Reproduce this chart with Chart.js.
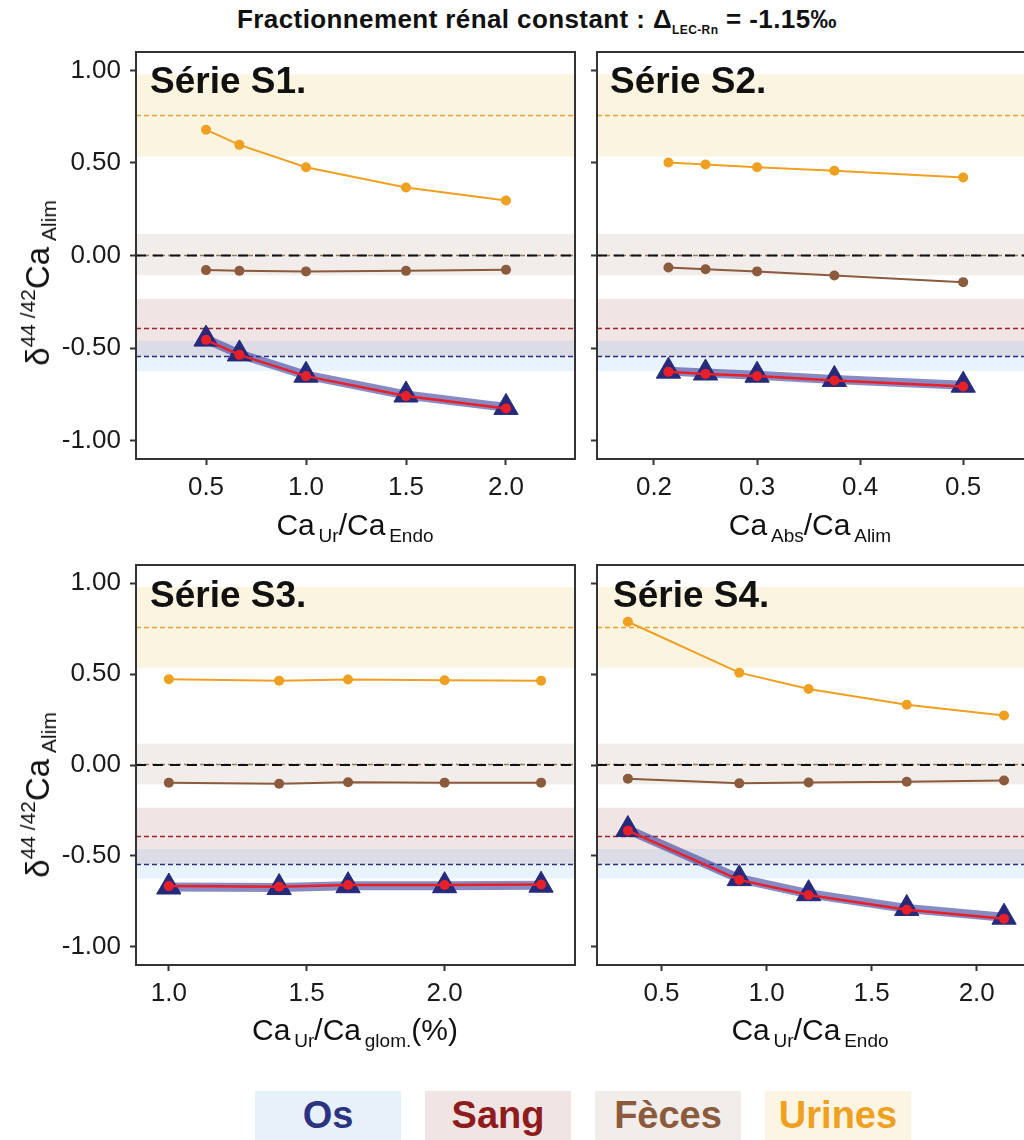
<!DOCTYPE html>
<html>
<head>
<meta charset="utf-8">
<script src="https://cdn.jsdelivr.net/npm/chart.js@4.4.0/dist/chart.umd.min.js"></script>
<style>
body { margin:0; width:1024px; height:1140px; background:#fff; position:relative; overflow:hidden;
  font-family:'Liberation Sans', Arial, sans-serif; color:#111; }
canvas { position:absolute; }
.lab { position:absolute; white-space:nowrap; line-height:1; }
#title { left:537px; top:6px; transform:translateX(-50%); font-weight:bold; font-size:26px; letter-spacing:0.4px; }
#title sub { font-size:12px; vertical-align:-6px; }
.serie { font-weight:bold; font-size:37px; }
.xtitle { font-size:30px; transform:translateX(-50%); }
.xtitle sub { font-size:19px; vertical-align:-7px; }
.ytitle { font-size:33px; transform:translate(-50%,-50%) rotate(-90deg); }
.ytitle sup { font-size:21px; vertical-align:14px; }
.ytitle sub { font-size:21px; vertical-align:-7px; }
.leg { position:absolute; top:1091px; width:146px; height:49px; font-weight:bold; font-size:38px;
  text-align:center; line-height:49px; }
</style>
</head>
<body>
<div id="title" class="lab">Fractionnement rénal constant : Δ<sub>LEC-Rn</sub> = -1.15‰</div>

<canvas id="chartS1" width="590" height="470" style="left:0;top:40px"></canvas>
<canvas id="chartS2" width="444" height="470" style="left:580px;top:40px"></canvas>
<canvas id="chartS3" width="590" height="470" style="left:0;top:550px"></canvas>
<canvas id="chartS4" width="444" height="470" style="left:580px;top:550px"></canvas>

<div class="lab serie" style="left:150px;top:62px">Série S1.</div>
<div class="lab serie" style="left:610px;top:62px">Série S2.</div>
<div class="lab serie" style="left:150px;top:576px">Série S3.</div>
<div class="lab serie" style="left:613px;top:576px">Série S4.</div>

<div class="lab ytitle" style="left:38px;top:283px">δ<sup>44&nbsp;/42</sup>Ca<sub>&nbsp;Alim</sub></div>
<div class="lab ytitle" style="left:38px;top:795px">δ<sup>44&nbsp;/42</sup>Ca<sub>&nbsp;Alim</sub></div>

<div class="lab xtitle" style="left:355px;top:510px">Ca<sub>&thinsp;Ur</sub>/Ca<sub>&thinsp;Endo</sub></div>
<div class="lab xtitle" style="left:810px;top:510px">Ca<sub>&thinsp;Abs</sub>/Ca<sub>&thinsp;Alim</sub></div>
<div class="lab xtitle" style="left:355px;top:1015px">Ca<sub>&thinsp;Ur</sub>/Ca<sub>&thinsp;glom.</sub>(%)</div>
<div class="lab xtitle" style="left:810px;top:1015px">Ca<sub>&thinsp;Ur</sub>/Ca<sub>&thinsp;Endo</sub></div>

<div class="leg" style="left:255px;background:#e8f1fa;color:#2c3383">Os</div>
<div class="leg" style="left:425px;background:#f1e4e4;color:#8e1c1c">Sang</div>
<div class="leg" style="left:595px;background:#f1edea;color:#8c5a3c">Fèces</div>
<div class="leg" style="left:765px;background:#fcf5e3;color:#f0a020">Urines</div>

<script>
'use strict';

// tick labels
let yTicks = [-1, -0.5, 0, 0.5, 1];
let xTicksS1 = [0.5, 1.0, 1.5, 2.0];
let xTicksS2 = [0.2, 0.3, 0.4, 0.5];
let xTicksS3 = [1.0, 1.5, 2.0];
let xTicksS4 = [0.5, 1.0, 1.5, 2.0];

// reference ranges (mean +/- half width), order Os, Sang, Feces, Urines
let bandNames = ['Os', 'Sang', 'Fèces', 'Urines'];
let bandMeans = [-0.543, -0.39, 0.005, 0.757];
let bandHalfWidths = [0.081, 0.155, 0.112, 0.222];

// Serie S1
let s1X = [0.5, 0.667, 1.0, 1.5, 2.0];
let s1Urines = [0.68, 0.598, 0.477, 0.368, 0.297];
let s1Feces = [-0.079, -0.083, -0.086, -0.083, -0.077];
let s1Sang = [-0.456, -0.537, -0.652, -0.760, -0.827];
let s1Os = [-0.452, -0.532, -0.647, -0.754, -0.821];

// Serie S2
let s2X = [0.214, 0.25, 0.3, 0.375, 0.5];
let s2Urines = [0.503, 0.492, 0.477, 0.458, 0.422];
let s2Feces = [-0.065, -0.074, -0.086, -0.108, -0.144];
let s2Sang = [-0.629, -0.640, -0.652, -0.676, -0.708];
let s2Os = [-0.625, -0.635, -0.647, -0.670, -0.701];

// Serie S3
let s3X = [1.0, 1.4, 1.65, 2.0, 2.35];
let s3Urines = [0.472, 0.464, 0.470, 0.466, 0.464];
let s3Feces = [-0.097, -0.103, -0.095, -0.097, -0.097];
let s3Sang = [-0.666, -0.670, -0.660, -0.660, -0.657];
let s3Os = [-0.671, -0.674, -0.664, -0.664, -0.661];

// Serie S4
let s4X = [0.34, 0.87, 1.2, 1.667, 2.13];
let s4Urines = [0.788, 0.508, 0.418, 0.331, 0.272];
let s4Feces = [-0.075, -0.101, -0.096, -0.092, -0.085];
let s4Sang = [-0.361, -0.632, -0.715, -0.796, -0.845];
let s4Os = [-0.355, -0.625, -0.708, -0.789, -0.837];

let bandFill = ['rgba(100,175,245,0.15)', '#f1e4e4', '#f1edea', '#fbf4e1'];
let bandLine = ['#2a2f7f', '#a32626', '#a0785c', '#f0a030'];

let bandsPlugin = {
  id: 'bands',
  beforeDatasetsDraw(chart) {
    let ctx = chart.ctx;
    let area = chart.chartArea;
    let y = chart.scales.y;
    ctx.save();
    ctx.beginPath();
    ctx.rect(area.left, area.top, area.right - area.left, area.bottom - area.top);
    ctx.clip();
    // urines first, os last (os is see-through over sang)
    for (let i = bandNames.length - 1; i >= 0; i--) {
      let top = y.getPixelForValue(bandMeans[i] + bandHalfWidths[i]);
      let bot = y.getPixelForValue(bandMeans[i] - bandHalfWidths[i]);
      ctx.fillStyle = bandFill[i];
      ctx.fillRect(area.left, top, area.right - area.left, bot - top);
    }
    ctx.lineWidth = 1.3;
    ctx.setLineDash([5, 3]);
    for (let i = 0; i < bandNames.length; i++) {
      let ym = Math.round(y.getPixelForValue(bandMeans[i])) + 0.5;
      ctx.strokeStyle = bandLine[i];
      ctx.beginPath();
      ctx.moveTo(area.left, ym);
      ctx.lineTo(area.right, ym);
      ctx.stroke();
    }
    // zero line
    let y0 = y.getPixelForValue(0);
    ctx.lineWidth = 2.2;
    ctx.strokeStyle = '#111';
    ctx.setLineDash([10, 7]);
    ctx.beginPath();
    ctx.moveTo(area.left, y0);
    ctx.lineTo(area.right, y0);
    ctx.stroke();
    ctx.restore();
  },
  afterDraw(chart) {
    let ctx = chart.ctx;
    let a = chart.chartArea;
    let opts = chart.options.plugins.bands || {};
    ctx.save();
    ctx.strokeStyle = '#333';
    ctx.lineWidth = 2;
    ctx.beginPath();
    if (opts.rightEdge) {
      ctx.rect(a.left, a.top, a.right - a.left, a.bottom - a.top);
    } else {
      ctx.moveTo(a.right + 2, a.top);
      ctx.lineTo(a.left, a.top);
      ctx.lineTo(a.left, a.bottom);
      ctx.lineTo(a.right + 2, a.bottom);
    }
    ctx.stroke();
    ctx.restore();
  }
};

function toPoints(xs, ys) {
  let pts = [];
  for (let i = 0; i < xs.length; i++) {
    pts.push({x: xs[i], y: ys[i]});
  }
  return pts;
}

function makePanel(id, xs, sang, os, feces, urines, xMin, xMax, xTicks, yLabels, padTop, xHeight, rightEdge) {
  let ctx = document.getElementById(id).getContext('2d');
  let yWidth = yLabels ? 136 : 17;
  return new Chart(ctx, {
    type: 'line',
    data: {
      datasets: [{
        label: 'Sang',
        data: toPoints(xs, sang),
        borderColor: '#e8202a',
        backgroundColor: '#e8202a',
        borderWidth: 2.5,
        pointRadius: 5,
        pointBorderWidth: 0
      },
      {
        label: 'Os',
        data: toPoints(xs, os),
        borderColor: 'rgba(55,60,155,0.6)',
        backgroundColor: '#262a7a',
        borderWidth: 9,
        pointStyle: 'triangle',
        pointRadius: 14,
        pointBorderColor: '#262a7a',
        pointBorderWidth: 1
      },
      {
        label: 'Fèces',
        data: toPoints(xs, feces),
        borderColor: '#8c5a3c',
        backgroundColor: '#8c5a3c',
        borderWidth: 2,
        pointRadius: 5,
        pointBorderWidth: 0
      },
      {
        label: 'Urines',
        data: toPoints(xs, urines),
        borderColor: '#f0a020',
        backgroundColor: '#f0a020',
        borderWidth: 2,
        pointRadius: 5,
        pointBorderWidth: 0
      }]
    },
    options: {
      responsive: false,
      animation: false,
      layout: {
        autoPadding: false,
        padding: {top: padTop, right: rightEdge ? 15 : 0, bottom: 0, left: 0}
      },
      plugins: {
        legend: {display: false},
        tooltip: {enabled: false},
        bands: {rightEdge: rightEdge}
      },
      scales: {
        x: {
          type: 'linear',
          min: xMin,
          max: xMax,
          afterBuildTicks: (scale) => { scale.ticks = xTicks.map(v => ({value: v})); },
          afterFit: (scale) => {
            scale.height = xHeight;
            scale.paddingLeft = 0;
            scale.paddingRight = 0;
          },
          grid: {drawOnChartArea: false, drawTicks: true, tickLength: 6, tickColor: '#333', tickWidth: 2},
          border: {display: true, color: '#333', width: 2},
          ticks: {
            padding: 7,
            color: '#1a1a1a',
            font: {family: 'Liberation Sans', size: 26},
            maxRotation: 0,
            callback: (v) => Number(v).toFixed(1)
          }
        },
        y: {
          type: 'linear',
          min: -1.1,
          max: 1.1,
          afterBuildTicks: (scale) => { scale.ticks = yTicks.map(v => ({value: v})); },
          afterFit: (scale) => {
            scale.width = yWidth;
            scale.paddingTop = 0;
            scale.paddingBottom = 0;
          },
          grid: {drawOnChartArea: false, drawTicks: true, tickLength: 6, tickColor: '#333', tickWidth: 2},
          border: {display: true, color: '#333', width: 2},
          ticks: {
            padding: 9,
            color: '#1a1a1a',
            font: {family: 'Liberation Sans', size: 26},
            callback: (v) => yLabels ? Number(v).toFixed(2) : ''
          }
        }
      }
    },
    plugins: [bandsPlugin]
  });
}

makePanel('chartS1', s1X, s1Sang, s1Os, s1Feces, s1Urines, 0.15, 2.345, xTicksS1, true, 12, 51, true);
makePanel('chartS2', s2X, s2Sang, s2Os, s2Feces, s2Urines, 0.1447, 0.559, xTicksS2, false, 12, 51, false);
makePanel('chartS3', s3X, s3Sang, s3Os, s3Feces, s3Urines, 0.881, 2.473, xTicksS3, true, 15, 55, true);
makePanel('chartS4', s4X, s4Sang, s4Os, s4Feces, s4Urines, 0.193, 2.225, xTicksS4, false, 15, 55, false);
</script>
</body>
</html>
